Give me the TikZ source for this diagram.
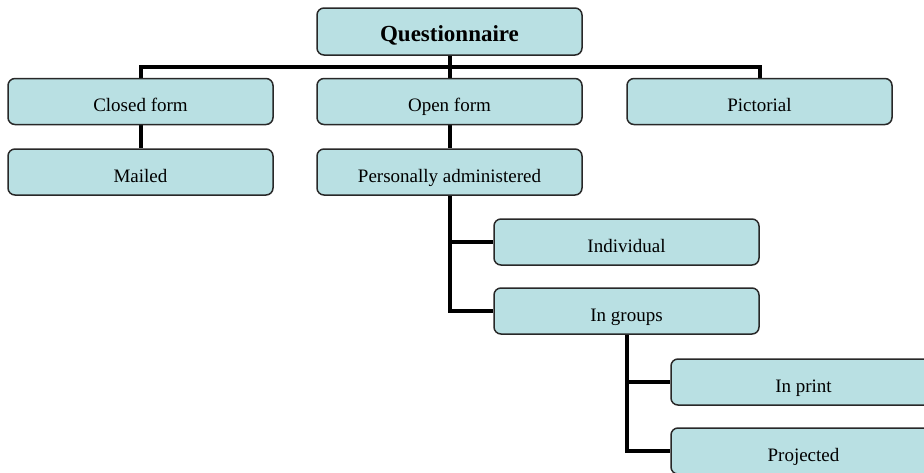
\documentclass[tikz,border=0pt]{standalone}
\usepackage{fontspec}
\setmainfont{Liberation Serif}
\usetikzlibrary{backgrounds}
\definecolor{boxfill}{RGB}{185,224,227}
\definecolor{boxline}{RGB}{40,40,40}
\begin{document}
\begin{tikzpicture}[x=1pt,y=-1pt,
  box/.style={draw=boxline, line width=1.5pt, fill=boxfill, rounded corners=7pt,
    minimum width=265pt, minimum height=46pt, inner sep=0pt,
    text height=20pt, text depth=0pt,
    font=\fontsize{19}{22}\selectfont},
  conn/.style={line width=4pt, black}]
\useasboundingbox (0,0) rectangle (924,472);
\clip (0,0) rectangle (924,472);
\node[box, minimum height=47pt, font=\fontsize{23}{26}\selectfont\bfseries] (Q) at (449.5,31.5) {Questionnaire};
\node[box] (Closed) at (140.5,101.5) {Closed form};
\node[box] (Open) at (449.5,101.5) {Open form};
\node[box] (Pict) at (759.5,101.5) {Pictorial};
\node[box] (Mailed) at (140.5,172) {Mailed};
\node[box] (Pers) at (449.5,172) {Personally administered};
\node[box] (Indiv) at (626.5,242) {Individual};
\node[box] (Groups) at (626.5,311) {In groups};
\node[box] (Print) at (803.5,382) {In print};
\node[box] (Proj) at (803.5,451) {Projected};
\coordinate (bar) at (0,67);
\begin{scope}[on background layer]
\draw[conn] (Q.south) -- (Open.north);
\draw[conn] (Closed.north) |- (Pict.north |- bar) -- (Pict.north);
\draw[conn] (Closed.south) -- (Mailed.north);
\draw[conn] (Open.south) -- (Pers.north);
\draw[conn] (Pers.south) |- (Groups.west);
\draw[conn] (Pers.south |- Indiv.west) -- (Indiv.west);
\draw[conn] (Groups.south) |- (Proj.west);
\draw[conn] (Groups.south |- Print.west) -- (Print.west);
\end{scope}
\end{tikzpicture}
\end{document}
